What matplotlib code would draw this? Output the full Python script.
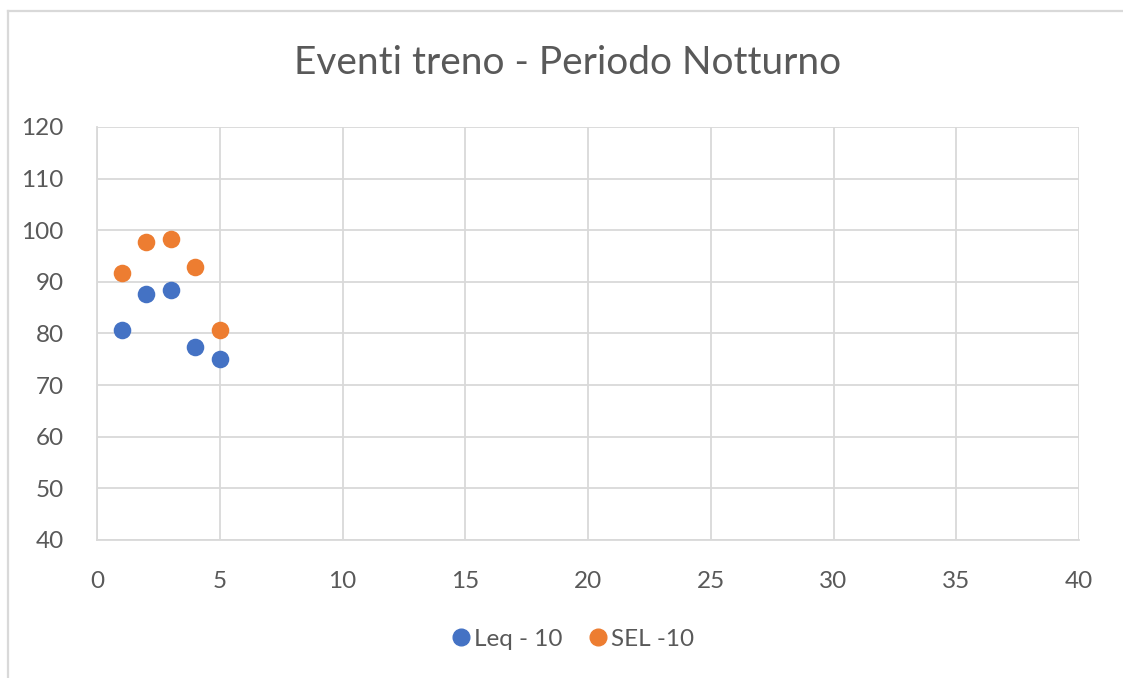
import matplotlib
matplotlib.use("Agg")
import matplotlib.pyplot as plt
from matplotlib.lines import Line2D

x_vals = [1, 2, 3, 4, 5]
leq = [80.7, 87.6, 88.5, 77.4, 75.0]
sel = [91.7, 97.7, 98.3, 92.8, 80.7]
series_names = ["Leq - 10", "SEL -10"]
title = "Eventi treno - Periodo Notturno"
xticks = [0, 5, 10, 15, 20, 25, 30, 35, 40]
yticks = [40, 50, 60, 70, 80, 90, 100, 110, 120]

plt.rcParams['font.family'] = ['Lato', 'DejaVu Sans']
txt = '#595959'
grid = '#d9d9d9'
blue = '#4472C4'
orange = '#ED7D31'

W, H = 1123, 678
fig = plt.figure(figsize=(W / 100, H / 100), dpi=100)
# outer chart frame: only top and left edges visible
fig.lines.append(Line2D([7.5 / W, 1.0], [1 - 11 / H, 1 - 11 / H], transform=fig.transFigure,
                        color='#d9d9d9', linewidth=1.6))
fig.lines.append(Line2D([7.5 / W, 7.5 / W], [0.0, 1 - 11 / H], transform=fig.transFigure,
                        color='#d9d9d9', linewidth=1.6))

ax = fig.add_axes([97 / W, 1 - 540 / H, 982 / W, 413 / H])
ax.set_xlim(0, 40)
ax.set_ylim(40, 120)
ax.set_xticks(xticks)
ax.set_yticks(yticks)
ax.grid(True, color=grid, linewidth=1.3)
ax.set_axisbelow(True)
for s in ['top', 'right']:
    ax.spines[s].set_visible(False)
for s in ['left', 'bottom']:
    ax.spines[s].set_color(grid)
    ax.spines[s].set_linewidth(1.3)
ax.tick_params(length=0, labelsize=17.5, labelcolor=txt)
ax.tick_params(axis='y', pad=24)
ax.tick_params(axis='x', pad=22)

ax.scatter(x_vals, leq, s=160, color=blue, zorder=3, linewidths=0)
ax.scatter(x_vals, sel, s=160, color=orange, zorder=3, linewidths=0)

fig.text(0.5 + 6 / W, 1 - 63 / H, title, ha='center', va='center', fontsize=28, color=txt)

handles = [Line2D([], [], marker='o', linestyle='', color=blue, markersize=12),
           Line2D([], [], marker='o', linestyle='', color=orange, markersize=12)]
fig.legend(handles, series_names, loc='center', bbox_to_anchor=(0.5 + 10 / W, 1 - 639 / H),
           ncol=2, frameon=False, fontsize=17.5, labelcolor=txt, handletextpad=0.0,
           columnspacing=1.0, handlelength=1.0)

fig.savefig('out.png', dpi=100)
